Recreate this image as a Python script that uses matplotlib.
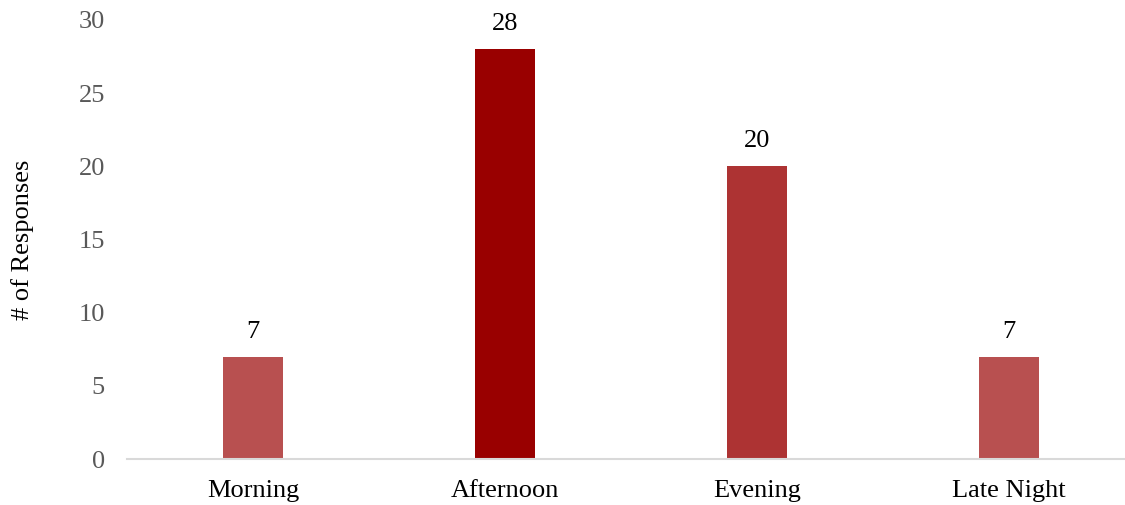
import matplotlib.pyplot as plt

categories = ['Morning', 'Afternoon', 'Evening', 'Late Night']
responses = [7, 28, 20, 7]
bar_colors = ['#B85050', '#990000', '#AD3333', '#B85050']

plt.rcParams['font.family'] = ['Liberation Serif', 'DejaVu Serif']

fig = plt.figure(figsize=(11.25, 5.05), dpi=100)
ax = fig.add_axes([127 / 1125, 46 / 505, 1 - 127 / 1125, 439 / 505])

x = range(len(categories))
bars = ax.bar(x, responses, width=0.238, color=bar_colors, zorder=2)

# value labels over each bar
for rect, val in zip(bars, responses):
    ax.annotate(str(val), (rect.get_x() + rect.get_width() / 2, val),
                xytext=(0, 10), textcoords='offset points',
                ha='center', va='bottom', fontsize=19, color='black')

ax.set_xlim(-0.5, 3.46)
ax.set_ylim(0, 30)
ax.set_yticks(range(0, 31, 5))
ax.set_xticks(list(x))
ax.set_xticklabels(categories)

ax.tick_params(axis='y', length=0, pad=16, labelsize=19, labelcolor='#595959')
ax.tick_params(axis='x', length=0, pad=15, labelsize=19, labelcolor='black')

for side in ['top', 'right', 'left']:
    ax.spines[side].set_visible(False)
ax.spines['bottom'].set_color('#D9D9D9')
ax.spines['bottom'].set_linewidth(1.5)

ax.set_ylabel('# of Responses', fontsize=19, labelpad=32)

fig.savefig('out.png', dpi=100)
